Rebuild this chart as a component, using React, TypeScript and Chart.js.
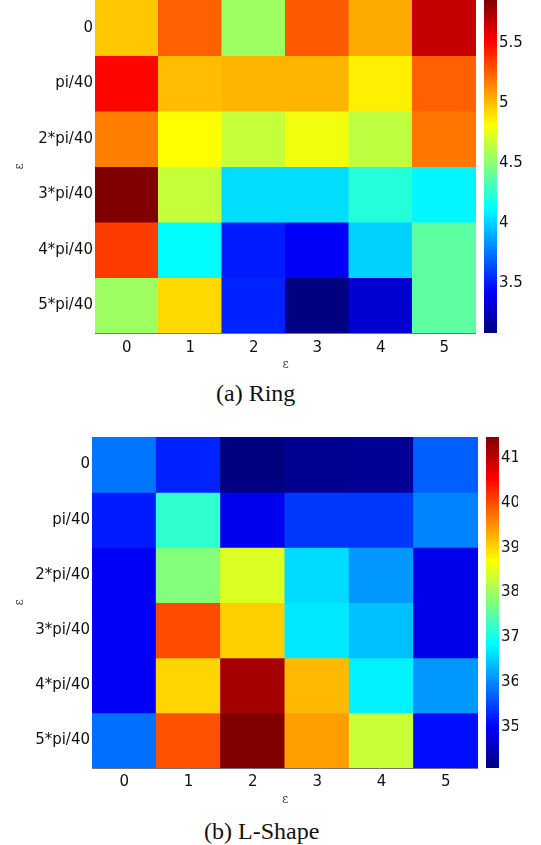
import React, { useEffect, useRef } from "react";
import { Chart, registerables } from "chart.js";
Chart.register(...registerables);

const xLabels = ["0", "1", "2", "3", "4", "5"];
const yLabels = ["0", "pi/40", "2*pi/40", "3*pi/40", "4*pi/40", "5*pi/40"];

const ringRow0 = [4.97, 5.25, 4.55, 5.27, 5.05, 5.67];
const ringRow1 = [5.5, 5.0, 5.02, 5.02, 4.86, 5.25];
const ringRow2 = [5.17, 4.82, 4.66, 4.78, 4.64, 5.19];
const ringRow3 = [5.86, 4.66, 4.03, 4.03, 4.22, 4.1];
const ringRow4 = [5.35, 4.12, 3.5, 3.41, 4.0, 4.38];
const ringRow5 = [4.55, 4.92, 3.52, 3.08, 3.3, 4.38];
const ringValues = [ringRow0, ringRow1, ringRow2, ringRow3, ringRow4, ringRow5];
const ringRange = [3.08, 5.86];
const ringTicks = [3.5, 4, 4.5, 5, 5.5];

const lRow0 = [35.85, 35.25, 34.08, 34.2, 34.25, 35.7];
const lRow1 = [35.2, 37.2, 34.9, 35.4, 35.4, 35.95];
const lRow2 = [34.95, 37.8, 38.45, 36.6, 36.1, 34.85];
const lRow3 = [34.95, 40.0, 39.05, 36.7, 36.4, 34.85];
const lRow4 = [34.95, 39.0, 41.2, 39.2, 36.75, 36.1];
const lRow5 = [35.8, 39.95, 41.47, 39.4, 38.3, 35.1];
const lValues = [lRow0, lRow1, lRow2, lRow3, lRow4, lRow5];
const lRange = [34.08, 41.47];
const lTicks = [35, 36, 37, 38, 39, 40, 41];

const FONT = "'DejaVu Sans', sans-serif";
const clamp = (v: number) => Math.max(0, Math.min(1, v));
function jetColor(t: number) {
  t = clamp(t);
  const r = clamp(1.5 - Math.abs(4 * t - 3));
  const g = clamp(1.5 - Math.abs(4 * t - 2));
  const b = clamp(1.5 - Math.abs(4 * t - 1));
  return `rgb(${Math.round(r * 255)},${Math.round(g * 255)},${Math.round(b * 255)})`;
}

function Heatmap({ values, range, top, axisWidth, plotRight, plotHeight, tickPad, titlePad }: any) {
  const ref = useRef<HTMLCanvasElement>(null);
  useEffect(() => {
    const [vmin, vmax] = range;
    const chart = new Chart(ref.current!, {
      type: "bar",
      data: {
        labels: xLabels,
        datasets: yLabels.map((_, r) => {
          const cols = values[r].map((v: number) => jetColor((v - vmin) / (vmax - vmin)));
          return {
            data: xLabels.map(() => [r - 0.5, r + 0.5]),
            backgroundColor: cols,
            borderColor: cols,
            borderWidth: 0,
            borderSkipped: false,
            inflateAmount: 0.5,
            barPercentage: 1,
            categoryPercentage: 1,
            grouped: false,
          } as any;
        }),
      },
      options: {
        responsive: false,
        animation: false,
        devicePixelRatio: 1,
        layout: { padding: 0 },
        plugins: { legend: { display: false }, tooltip: { enabled: false } },
        scales: {
          x: {
            type: "category",
            offset: true,
            grid: { display: false, drawTicks: false },
            border: { display: true, color: "#777" },
            ticks: { color: "#111", font: { family: FONT, size: 15 }, padding: tickPad, maxRotation: 0 },
            title: { display: true, text: "ε", color: "#444", font: { family: "'DejaVu Serif', serif", size: 12 }, padding: { top: 0, bottom: titlePad } },
            afterFit: (s: any) => {
              s.height = 42;
              s.paddingLeft = 0;
              s.paddingRight = 0;
            },
          },
          y: {
            type: "linear",
            reverse: true,
            min: -0.5,
            max: 5.5,
            grid: { display: false, drawTicks: false },
            border: { display: true, color: "#777" },
            afterBuildTicks: (s: any) => {
              s.ticks = yLabels.map((_, i) => ({ value: i }));
            },
            ticks: {
              color: "#111",
              font: { family: FONT, size: 15 },
              padding: 2,
              callback: (v: any) => yLabels[Math.round(Number(v))],
            },
            title: { display: true, text: "ε", color: "#444", font: { family: "'DejaVu Serif', serif", size: 12 }, padding: { top: 13, bottom: 0 } },
            afterFit: (s: any) => {
              s.width = axisWidth;
              s.paddingTop = 0;
              s.paddingBottom = 0;
            },
          },
        },
      } as any,
    });
    return () => chart.destroy();
  }, []);
  return (
    <canvas
      ref={ref}
      width={plotRight}
      height={plotHeight + 42}
      style={{ position: "absolute", left: 0, top, width: plotRight, height: plotHeight + 42 }}
    />
  );
}

function ColorBar({ range, ticks, left, top, height, width }: any) {
  const ref = useRef<HTMLCanvasElement>(null);
  useEffect(() => {
    const [vmin, vmax] = range;
    const chart = new Chart(ref.current!, {
      type: "bar",
      data: {
        labels: [""],
        datasets: [
          {
            data: [[vmin, vmax]],
            backgroundColor: (ctx: any) => {
              const area = ctx.chart.chartArea;
              if (!area) return "#00f";
              const g = ctx.chart.ctx.createLinearGradient(0, area.bottom, 0, area.top);
              [0, 0.125, 0.375, 0.625, 0.875, 1].forEach((t) => g.addColorStop(t, jetColor(t)));
              return g;
            },
            borderWidth: 0,
            borderSkipped: false,
            barPercentage: 1,
            categoryPercentage: 1,
          } as any,
        ],
      },
      options: {
        responsive: false,
        animation: false,
        devicePixelRatio: 1,
        layout: { padding: 0 },
        plugins: { legend: { display: false }, tooltip: { enabled: false } },
        scales: {
          x: { display: false },
          y: {
            type: "linear",
            position: "right",
            min: vmin,
            max: vmax,
            grid: { display: false, drawTicks: false },
            border: { display: false },
            afterBuildTicks: (s: any) => {
              s.ticks = ticks.map((v: number) => ({ value: v }));
            },
            ticks: {
              color: "#111",
              font: { family: FONT, size: 15 },
              padding: 2,
              callback: (v: any) => String(v),
            },
            afterFit: (s: any) => {
              s.width = width - 13;
              s.paddingTop = 0;
              s.paddingBottom = 0;
            },
          },
        },
      } as any,
    });
    return () => chart.destroy();
  }, []);
  return (
    <canvas
      ref={ref}
      width={width}
      height={height}
      style={{ position: "absolute", left, top, width, height }}
    />
  );
}

export default function App() {
  const cap: React.CSSProperties = {
    position: "absolute",
    fontFamily: "'Liberation Serif', 'Times New Roman', serif",
    fontSize: 24,
    color: "#111",
    whiteSpace: "nowrap",
    lineHeight: "26px",
  };
  return (
    <div style={{ position: "absolute", left: 0, top: 0, width: 541, height: 845, background: "#fff", overflow: "hidden" }}>
      <Heatmap values={ringValues} range={ringRange} top={0} axisWidth={95} plotRight={476} plotHeight={333} tickPad={6} titlePad={3} />
      <ColorBar range={ringRange} ticks={ringTicks} left={484} top={0} height={333} width={38} />
      <div style={{ ...cap, left: 216, top: 380 }}>(a) Ring</div>
      <Heatmap values={lValues} range={lRange} top={437} axisWidth={92} plotRight={478} plotHeight={331} tickPad={5} titlePad={3} />
      <ColorBar range={lRange} ticks={lTicks} left={486} top={437} height={331} width={32} />
      <div style={{ ...cap, left: 204, top: 818 }}>(b) L-Shape</div>
    </div>
  );
}
